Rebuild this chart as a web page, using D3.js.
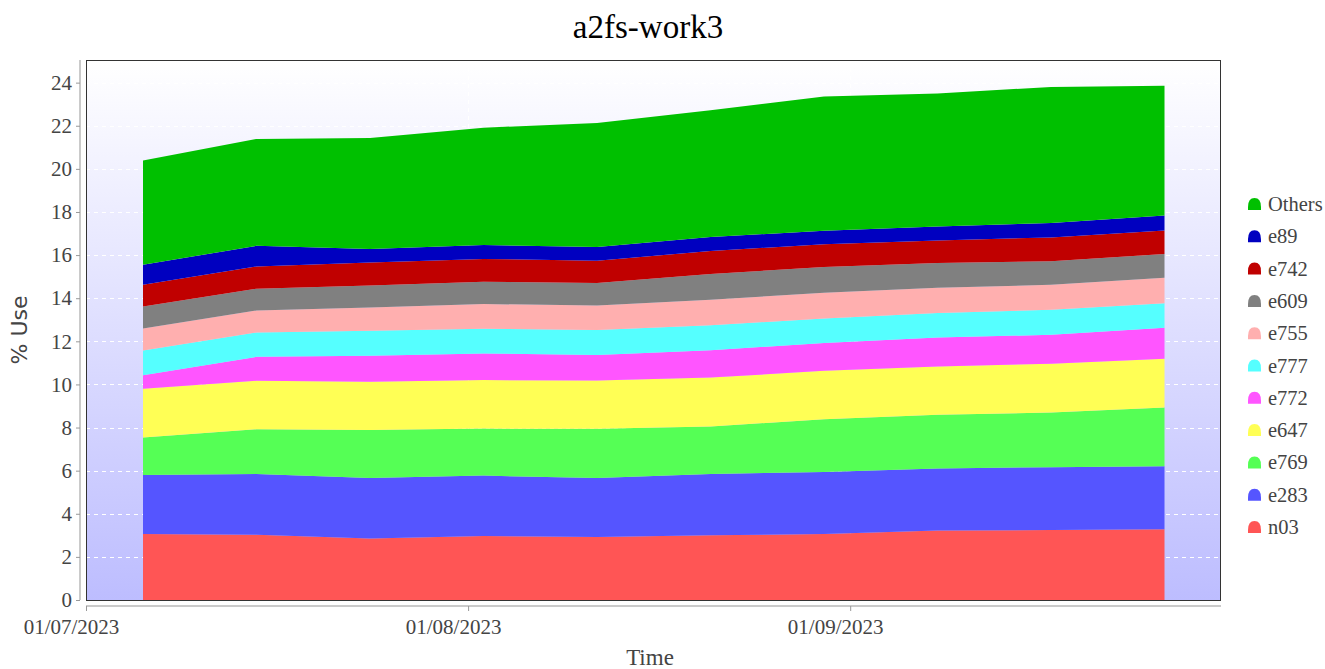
<!DOCTYPE html>
<html>
<head>
<meta charset="utf-8">
<script src="https://cdn.jsdelivr.net/npm/d3@7"></script>
<style>
  html, body { margin: 0; padding: 0; background: #ffffff; }
  svg { display: block; }
</style>
</head>
<body>
<svg id="chart" width="1325" height="669"></svg>
<script>
// ---------------- data ----------------
const dates = [
  "2023-07-05T15:00", "2023-07-14T20:00", "2023-07-24T01:00", "2023-08-02T06:00",
  "2023-08-11T11:00", "2023-08-20T16:00", "2023-08-29T21:00", "2023-09-08T02:00",
  "2023-09-17T07:00", "2023-09-26T12:00"
];
const seriesNames = ["n03", "e283", "e769", "e647", "e772", "e777", "e755", "e609", "e742", "e89", "Others"];
const n03    = [3.06, 3.03, 2.85, 2.97, 2.92, 3.00, 3.06, 3.22, 3.25, 3.28];
const e283   = [2.74, 2.82, 2.81, 2.80, 2.74, 2.85, 2.88, 2.88, 2.91, 2.93];
const e769   = [1.74, 2.07, 2.23, 2.18, 2.28, 2.20, 2.45, 2.49, 2.54, 2.72];
const e647   = [2.26, 2.25, 2.23, 2.25, 2.24, 2.27, 2.24, 2.24, 2.26, 2.26];
const e772   = [0.63, 1.11, 1.21, 1.24, 1.19, 1.27, 1.29, 1.35, 1.34, 1.44];
const e777   = [1.14, 1.13, 1.16, 1.14, 1.15, 1.15, 1.14, 1.13, 1.16, 1.14];
const e755   = [1.03, 1.02, 1.08, 1.15, 1.14, 1.19, 1.19, 1.17, 1.16, 1.18];
const e609   = [1.02, 1.01, 1.02, 1.03, 1.04, 1.19, 1.20, 1.15, 1.10, 1.10];
const e742   = [1.00, 1.03, 1.07, 1.06, 1.04, 1.07, 1.05, 1.05, 1.10, 1.09];
const e89    = [0.93, 0.96, 0.62, 0.65, 0.63, 0.65, 0.63, 0.65, 0.67, 0.70];
const Others = [4.84, 4.96, 5.15, 5.44, 5.76, 5.88, 6.23, 6.17, 6.31, 6.02];
const seriesValues = [n03, e283, e769, e647, e772, e777, e755, e609, e742, e89, Others];
const seriesColors = ["#ff5555", "#5555ff", "#55ff55", "#ffff55", "#ff55ff", "#55ffff",
                      "#ffafaf", "#808080", "#c00000", "#0000c0", "#00c000"];
const yTicks = [0, 2, 4, 6, 8, 10, 12, 14, 16, 18, 20, 22, 24];
const xTickDates = ["2023-07-01", "2023-08-01", "2023-09-01"];
const xDomain = ["2023-07-01T00:00", "2023-10-01T02:00"];
const yMax = 25.05;
const titleText = "a2fs-work3";
const xTitle = "Time";
const yTitle = "% Use";

// ---------------- layout ----------------
const serif = "Liberation Serif, Times New Roman, serif";
const svg = d3.select("#chart");
const plot = { left: 86, right: 1221, top: 60, bottom: 600 };
const parseT = d3.timeParse("%Y-%m-%dT%H:%M");
const parseD = d3.timeParse("%Y-%m-%d");
const fmt = d3.timeFormat("%d/%m/%Y");

const x = d3.scaleTime()
  .domain(xDomain.map(parseT))
  .range([plot.left, plot.right]);
const y = d3.scaleLinear()
  .domain([0, yMax])
  .range([plot.bottom, plot.top]);

const rows = dates.map((d, i) => {
  const r = { date: parseT(d) };
  seriesNames.forEach((s, k) => r[s] = seriesValues[k][i]);
  return r;
});
const layers = d3.stack().keys(seriesNames)(rows);

// background gradient
const defs = svg.append("defs");
const grad = defs.append("linearGradient").attr("id", "bg")
  .attr("x1", 0).attr("y1", 0).attr("x2", 0).attr("y2", 1);
grad.append("stop").attr("offset", "0%").attr("stop-color", "#ffffff");
grad.append("stop").attr("offset", "100%").attr("stop-color", "#bdbdff");

svg.append("rect")
  .attr("x", plot.left).attr("y", plot.top)
  .attr("width", plot.right - plot.left).attr("height", plot.bottom - plot.top)
  .attr("fill", "url(#bg)");

// gridlines
const gridG = svg.append("g");
gridG.selectAll("line.h").data(yTicks.filter(t => t > 0)).join("line")
  .attr("x1", plot.left).attr("x2", plot.right)
  .attr("y1", d => Math.round(y(d)) + 0.5).attr("y2", d => Math.round(y(d)) + 0.5)
  .attr("stroke", "#ffffff").attr("stroke-width", 1)
  .attr("stroke-dasharray", "4,4");
gridG.selectAll("line.v").data(xTickDates.map(parseD)).join("line")
  .attr("y1", plot.top).attr("y2", plot.bottom)
  .attr("x1", d => Math.round(x(d)) + 0.5).attr("x2", d => Math.round(x(d)) + 0.5)
  .attr("stroke", "#ffffff").attr("stroke-width", 1)
  .attr("stroke-dasharray", "4,4");

// areas
const area = d3.area()
  .x(d => x(d.data.date))
  .y0(d => y(d[0]))
  .y1(d => y(d[1]));
svg.append("g").selectAll("path").data(layers).join("path")
  .attr("d", area)
  .attr("fill", (d, i) => seriesColors[i]);

// plot outline
svg.append("rect")
  .attr("x", plot.left + 0.5).attr("y", plot.top + 0.5)
  .attr("width", plot.right - plot.left - 1).attr("height", plot.bottom - plot.top)
  .attr("fill", "none").attr("stroke", "#333333").attr("stroke-width", 1);

// y axis
const yAxis = d3.axisLeft(y).tickValues(yTicks).tickSize(4).tickPadding(4).tickFormat(d3.format("d"));
const yg = svg.append("g").attr("transform", "translate(80,0)").call(yAxis);
yg.select(".domain").attr("stroke", "#b8b8b8").attr("stroke-width", 1.5)
  .attr("d", `M0,${plot.top}V${plot.bottom}`);
yg.selectAll(".tick line").attr("stroke", "#999");
yg.selectAll(".tick text")
  .attr("font-family", serif)
  .attr("font-size", 21).attr("fill", "#444");

// x axis
const xAxis = d3.axisBottom(x).tickValues(xTickDates.map(parseD)).tickSize(5).tickPadding(8).tickFormat(fmt);
const xg = svg.append("g").attr("transform", "translate(0,606)").call(xAxis);
xg.select(".domain").attr("stroke", "#b8b8b8").attr("stroke-width", 1.5)
  .attr("d", `M${plot.left},0H${plot.right}`);
xg.selectAll(".tick line").attr("stroke", "#999");
xg.selectAll(".tick text")
  .attr("font-family", serif)
  .attr("font-size", 21).attr("fill", "#444")
  .attr("dx", -15);

// titles
svg.append("text")
  .attr("x", 648).attr("y", 38).attr("text-anchor", "middle")
  .attr("font-family", serif)
  .attr("font-size", 33).attr("fill", "#000")
  .text(titleText);
svg.append("text")
  .attr("x", 650).attr("y", 665).attr("text-anchor", "middle")
  .attr("font-family", serif)
  .attr("font-size", 23).attr("fill", "#444")
  .text(xTitle);
svg.append("text")
  .attr("transform", "translate(27,330) rotate(-90)")
  .attr("text-anchor", "middle")
  .attr("font-family", "DejaVu Sans, sans-serif")
  .attr("font-size", 22).attr("fill", "#444")
  .text(yTitle);

// legend (top to bottom: reverse order of stack)
const legendOrder = seriesNames.map((s, i) => ({ name: s, color: seriesColors[i] })).reverse();
const lg = svg.append("g").attr("transform", "translate(1248,204)");
const item = lg.selectAll("g").data(legendOrder).join("g")
  .attr("transform", (d, i) => `translate(0,${i * 32.3})`);
item.append("path")
  .attr("d", "M0,6 L0,3 Q0,-6 6.5,-6 Q13,-6 13,3 L13,6 Z")
  .attr("fill", d => d.color);
item.append("text")
  .attr("x", 20).attr("y", 7)
  .attr("font-family", serif)
  .attr("font-size", 20.5).attr("fill", "#444")
  .text(d => d.name);
</script>
</body>
</html>
